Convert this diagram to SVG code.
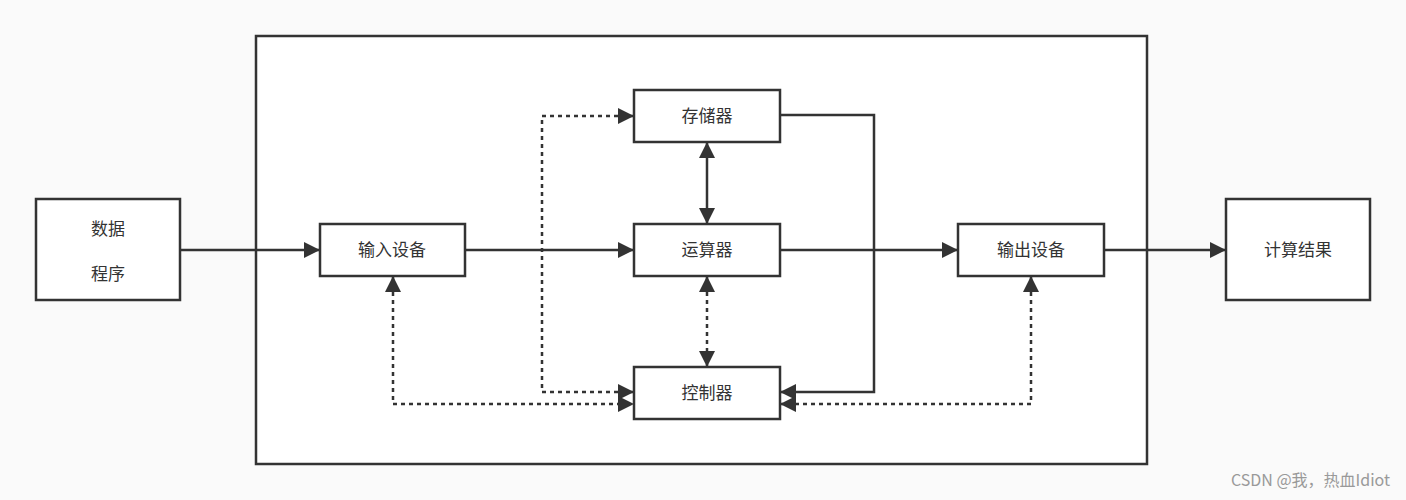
<svg xmlns="http://www.w3.org/2000/svg" width="1406" height="500" viewBox="0 0 1406 500">
<style>
.box{fill:#fff;stroke:#333;stroke-width:2.5}
.t{font-family:"Noto Sans CJK SC","Noto Sans",sans-serif;font-size:17px;fill:#333;text-anchor:middle;dominant-baseline:middle}
.l{fill:none;stroke:#333;stroke-width:2.5}
.d{stroke-dasharray:4 4}
</style>
<defs>
<marker id="a" viewBox="0 0 16 16" refX="16" refY="8" markerWidth="16" markerHeight="16" markerUnits="userSpaceOnUse" orient="auto-start-reverse"><path d="M0,0L16,8L0,16z" fill="#333"/></marker>
</defs>
<rect width="1406" height="500" fill="#fafafa"/>
<rect x="256" y="36" width="891" height="428" fill="#fff" stroke="#333" stroke-width="2.5"/>
<g id="n-data"><rect class="box" x="36" y="199" width="144" height="101"/><text class="t" x="108" y="230">数据</text><text class="t" x="108" y="275">程序</text></g>
<g id="n-in"><rect class="box" x="320" y="224" width="145" height="52"/><text class="t" x="392" y="251">输入设备</text></g>
<g id="n-mem"><rect class="box" x="634" y="90" width="146" height="52"/><text class="t" x="707" y="117">存储器</text></g>
<g id="n-alu"><rect class="box" x="634" y="224" width="146" height="52"/><text class="t" x="707" y="251">运算器</text></g>
<g id="n-ctl"><rect class="box" x="634" y="367" width="146" height="52"/><text class="t" x="707" y="394">控制器</text></g>
<g id="n-out"><rect class="box" x="958" y="224" width="146" height="52"/><text class="t" x="1031" y="251">输出设备</text></g>
<g id="n-res"><rect class="box" x="1226" y="199" width="144" height="101"/><text class="t" x="1298" y="251">计算结果</text></g>
<g id="connectors">
<path class="l" d="M180,250H320" marker-end="url(#a)"/>
<path class="l" d="M465,250H634" marker-end="url(#a)"/>
<path class="l" d="M780,250H958" marker-end="url(#a)"/>
<path class="l" d="M1104,250H1226" marker-end="url(#a)"/>
<path class="l" d="M707,142V224" marker-start="url(#a)" marker-end="url(#a)"/>
<path class="l d" d="M707,276V367" marker-start="url(#a)" marker-end="url(#a)"/>
<path class="l" d="M780,115H874V392H780" marker-end="url(#a)"/>
<path class="l d" d="M634,392H542V116H634" marker-start="url(#a)" marker-end="url(#a)"/>
<path class="l d" d="M393,276V404H634" marker-start="url(#a)" marker-end="url(#a)"/>
<path class="l d" d="M1031,276V404H780" marker-start="url(#a)" marker-end="url(#a)"/>
</g>
<text x="1390" y="486" font-family="'Noto Sans CJK SC','Noto Sans',sans-serif" font-size="16" fill="#999" text-anchor="end">CSDN @我，热血Idiot</text>
</svg>
